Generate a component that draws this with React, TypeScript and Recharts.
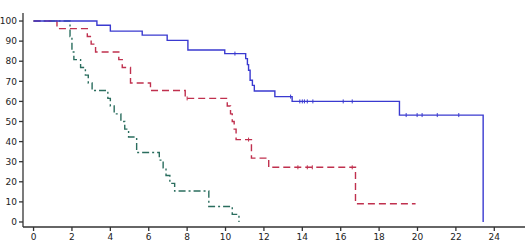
import React from "react";
import {
  ComposedChart,
  Line,
  Scatter,
  XAxis,
  YAxis,
} from "recharts";

// survival steps (time in months, % surviving)
const blueTimes = [0, 3.3, 4.0, 5.66, 6.96, 8.04, 9.96, 11.05, 11.14, 11.2, 11.28, 11.4, 11.5, 12.57, 13.47, 19.06, 23.42];
const blueSurv = [100, 97.9, 95.0, 93.0, 90.4, 85.6, 83.8, 81.3, 78.3, 75.5, 70.5, 68.0, 65.2, 62.4, 60.0, 53.2, 0];

const redTimes = [0, 1.22, 2.8, 3.0, 3.23, 4.44, 4.62, 5.05, 6.09, 7.9, 10.09, 10.26, 10.35, 10.45, 10.55, 11.35, 12.25, 16.77, 19.9];
const redSurv = [100, 96.2, 92.3, 88.5, 84.6, 80.8, 76.9, 69.2, 65.4, 61.5, 57.7, 53.8, 50.0, 46.2, 41.0, 31.8, 27.2, 9.1, 9.1];

const greenTimes = [0, 1.9, 2.0, 2.1, 2.45, 2.7, 2.85, 3.05, 3.87, 4.0, 4.2, 4.55, 4.75, 4.95, 5.37, 6.55, 6.75, 6.9, 7.1, 7.35, 9.13, 10.35, 10.7];
const greenSurv = [100, 92.3, 84.6, 80.8, 76.9, 73.1, 69.2, 65.4, 61.5, 57.7, 53.8, 50.0, 46.2, 42.3, 34.6, 30.8, 26.9, 23.1, 19.2, 15.4, 7.7, 3.8, 0];

// censored observations
const blueCensorTimes = [10.49, 13.39, 13.87, 14.0, 14.11, 14.26, 14.55, 16.13, 16.6, 19.41, 19.98, 20.24, 21.03, 22.15];
const blueCensorSurv = [83.8, 62.4, 60, 60, 60, 60, 60, 60, 60, 53.2, 53.2, 53.2, 53.2, 53.2];
const redCensorTimes = [8.0, 11.2, 13.77, 14.26, 14.52, 16.6];
const redCensorSurv = [61.5, 41.0, 27.2, 27.2, 27.2, 27.2];

const xTicks = [0, 2, 4, 6, 8, 10, 12, 14, 16, 18, 20, 22, 24];
const yTicks = [0, 10, 20, 30, 40, 50, 60, 70, 80, 90, 100];

const BLUE = "#3a3ad0";
const RED = "#c0304e";
const GREEN = "#2a6d5e";

function zip(ts: number[], ss: number[]) {
  return ts.map((t, i) => ({ t, s: ss[i] }));
}

const blueData = zip(blueTimes, blueSurv);
const redData = zip(redTimes, redSurv);
const greenData = zip(greenTimes, greenSurv);
const blueCensor = zip(blueCensorTimes, blueCensorSurv);
const redCensor = zip(redCensorTimes, redCensorSurv);

// small vertical tick for a censored patient
function censorMark(color: string) {
  return (props: any) => {
    const { cx, cy } = props;
    return (
      <line x1={cx} x2={cx} y1={cy - 2} y2={cy + 2} stroke={color} strokeWidth={1} />
    );
  };
}

const tickStyle = { fontSize: 9, fill: "#222", fontFamily: "DejaVu Sans" };

export default function App() {
  return (
    <div style={{ position: "absolute", left: 0, top: 0, background: "#fff" }}>
      <ComposedChart
        width={531}
        height={250}
        margin={{ top: 13, right: 6, bottom: 0, left: 0 }}
      >
        <XAxis
          type="number"
          dataKey="t"
          domain={[-0.55, 25.6]}
          ticks={xTicks}
          tick={tickStyle}
          tickSize={4}
          tickMargin={3}
          height={23}
          stroke="#333"
          strokeWidth={1.3}
          allowDataOverflow
        />
        <YAxis
          type="number"
          dataKey="s"
          domain={[-2.5, 104]}
          ticks={yTicks}
          tick={tickStyle}
          tickSize={4}
          tickMargin={2}
          width={23}
          stroke="#333"
          strokeWidth={1.3}
          allowDataOverflow
        />
        <Line
          data={greenData}
          dataKey="s"
          type="stepAfter"
          stroke={GREEN}
          strokeWidth={1.4}
          strokeDasharray="7 3 2 3"
          dot={false}
          isAnimationActive={false}
        />
        <Line
          data={redData}
          dataKey="s"
          type="stepAfter"
          stroke={RED}
          strokeWidth={1.4}
          strokeDasharray="7 4"
          dot={false}
          isAnimationActive={false}
        />
        <Line
          data={blueData}
          dataKey="s"
          type="stepAfter"
          stroke={BLUE}
          strokeWidth={1.4}
          dot={false}
          isAnimationActive={false}
        />
        <Scatter
          data={blueCensor}
          dataKey="s"
          shape={censorMark(BLUE)}
          isAnimationActive={false}
        />
        <Scatter
          data={redCensor}
          dataKey="s"
          shape={censorMark(RED)}
          isAnimationActive={false}
        />
      </ComposedChart>
    </div>
  );
}
